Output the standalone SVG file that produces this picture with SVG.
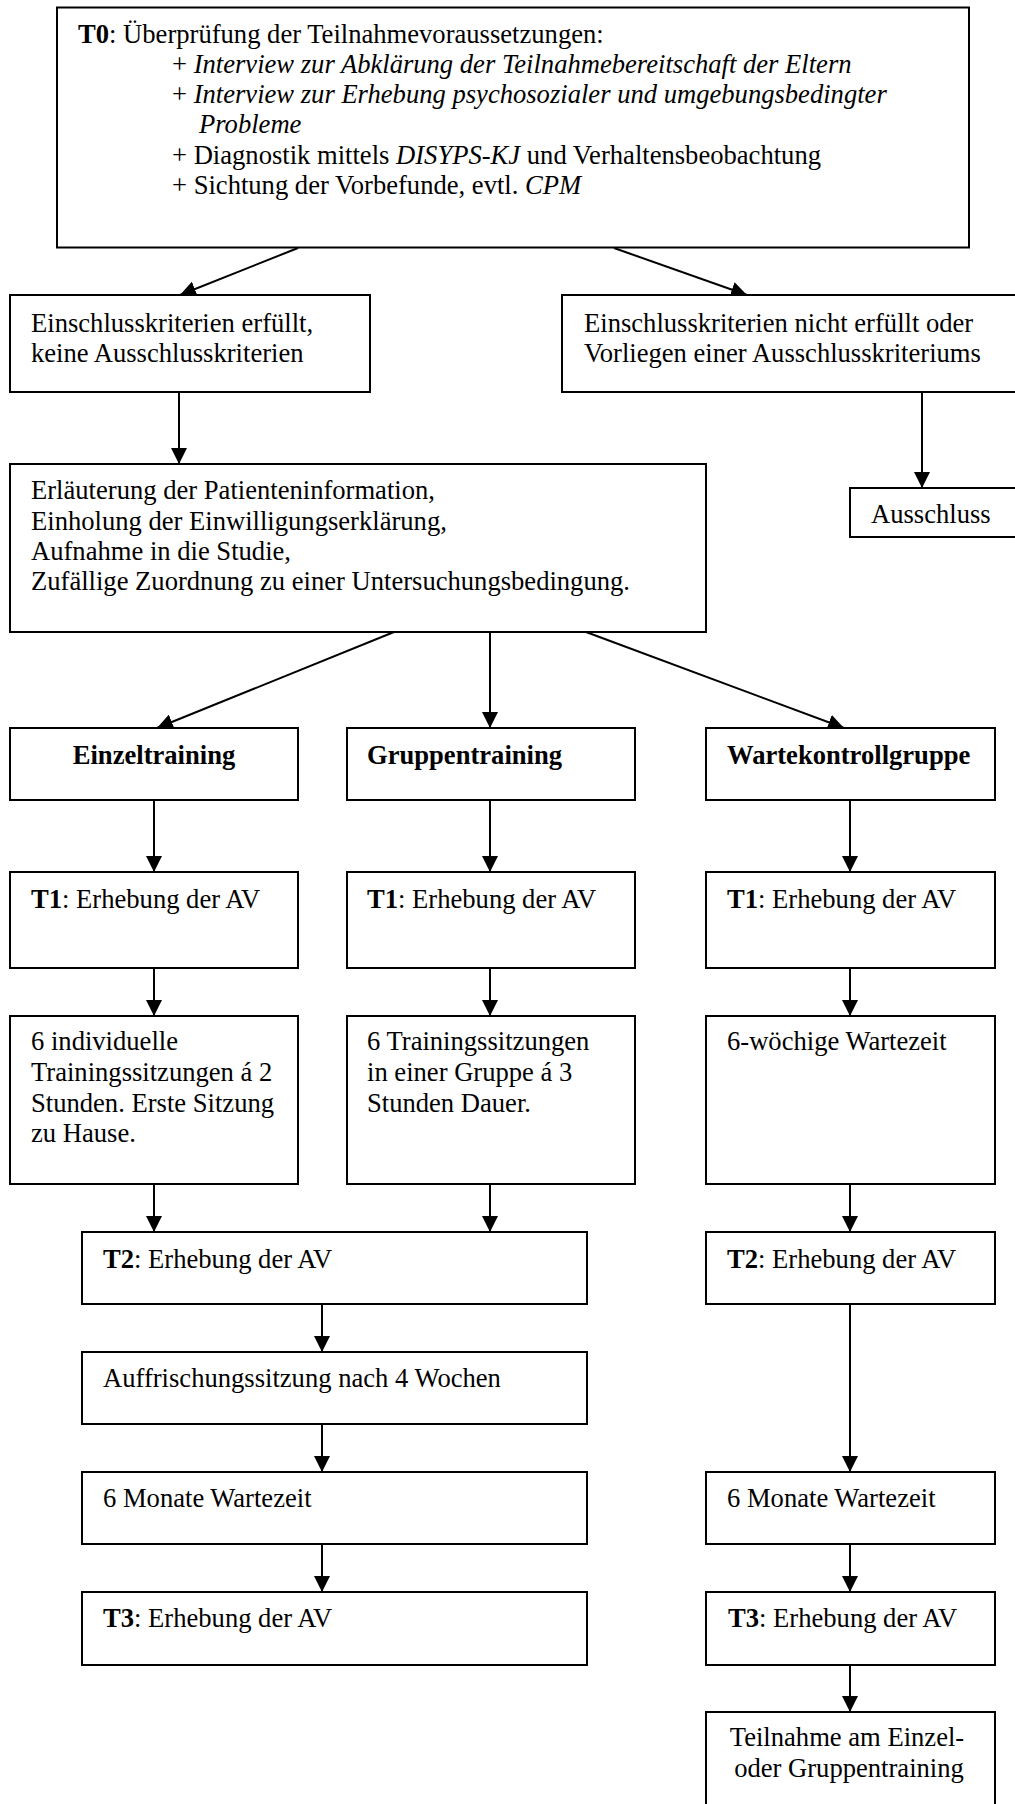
<svg xmlns="http://www.w3.org/2000/svg" width="1015" height="1804" viewBox="0 0 1015 1804">
<style>
  .box { fill: #fff; stroke: #000; stroke-width: 2; }
  .t { font-family: "Liberation Serif", "Times New Roman", serif; font-size: 26.6px; fill: #000; }
  .b { font-weight: bold; }
  .i { font-style: italic; }
  .c { text-anchor: middle; }
  .edge { stroke: #000; stroke-width: 2; fill: none; marker-end: url(#arr); }
</style>
<defs>
  <marker id="arr" markerUnits="userSpaceOnUse" markerWidth="16" markerHeight="16" viewBox="0 0 15 15" refX="15" refY="7.5" orient="auto">
    <path d="M0,0 L15,7.5 L0,15 z" fill="#000"/>
  </marker>
</defs>
<rect width="1015" height="1804" fill="#fff"/>

<g id="connectors">
  <line class="edge" x1="298" y1="248" x2="180" y2="295"/>
  <line class="edge" x1="614" y1="248" x2="747" y2="295"/>
  <line class="edge" x1="179" y1="392" x2="179" y2="464"/>
  <line class="edge" x1="922" y1="392" x2="922" y2="488"/>
  <line class="edge" x1="394" y1="632" x2="157" y2="728"/>
  <line class="edge" x1="490" y1="632" x2="490" y2="728"/>
  <line class="edge" x1="586" y1="632" x2="844" y2="728"/>
  <line class="edge" x1="154" y1="800" x2="154" y2="872"/>
  <line class="edge" x1="490" y1="800" x2="490" y2="872"/>
  <line class="edge" x1="850" y1="800" x2="850" y2="872"/>
  <line class="edge" x1="154" y1="968" x2="154" y2="1016"/>
  <line class="edge" x1="490" y1="968" x2="490" y2="1016"/>
  <line class="edge" x1="850" y1="968" x2="850" y2="1016"/>
  <line class="edge" x1="154" y1="1184" x2="154" y2="1232"/>
  <line class="edge" x1="490" y1="1184" x2="490" y2="1232"/>
  <line class="edge" x1="850" y1="1184" x2="850" y2="1232"/>
  <line class="edge" x1="322" y1="1304" x2="322" y2="1352"/>
  <line class="edge" x1="322" y1="1424" x2="322" y2="1472"/>
  <line class="edge" x1="322" y1="1544" x2="322" y2="1592"/>
  <line class="edge" x1="850" y1="1304" x2="850" y2="1472"/>
  <line class="edge" x1="850" y1="1544" x2="850" y2="1592"/>
  <line class="edge" x1="850" y1="1665" x2="850" y2="1712"/>
</g>

<g id="t0">
  <rect class="box" x="57" y="7.5" width="912" height="240"/>
  <text class="t" x="78" y="42.5"><tspan class="b">T0</tspan>: Überprüfung der Teilnahmevoraussetzungen:</text>
  <text class="t" x="172" y="72.8">+ <tspan class="i">Interview zur Abklärung der Teilnahmebereitschaft der Eltern</tspan></text>
  <text class="t" x="172" y="103.1">+ <tspan class="i">Interview zur Erhebung psychosozialer und umgebungsbedingter</tspan></text>
  <text class="t i" x="199" y="133.4">Probleme</text>
  <text class="t" x="172" y="163.7">+ Diagnostik mittels <tspan class="i">DISYPS-KJ</tspan> und Verhaltensbeobachtung</text>
  <text class="t" x="172" y="194">+ Sichtung der Vorbefunde, evtl. <tspan class="i">CPM</tspan></text>
</g>

<g id="einschluss">
  <rect class="box" x="10" y="295" width="360" height="97"/>
  <text class="t" x="31" y="331.5">Einschlusskriterien erfüllt,</text>
  <text class="t" x="31" y="361.7">keine Ausschlusskriterien</text>
</g>

<g id="nicht-erfuellt">
  <rect class="box" x="562" y="295" width="460" height="97"/>
  <text class="t" x="584" y="331.5">Einschlusskriterien nicht erfüllt oder</text>
  <text class="t" x="584" y="361.7">Vorliegen einer Ausschlusskriteriums</text>
</g>

<g id="ausschluss">
  <rect class="box" x="850" y="488" width="172" height="49"/>
  <text class="t" x="871" y="522.5">Ausschluss</text>
</g>

<g id="aufnahme">
  <rect class="box" x="10" y="464" width="696" height="168"/>
  <text class="t" x="31" y="499.3">Erläuterung der Patienteninformation,</text>
  <text class="t" x="31" y="529.6">Einholung der Einwilligungserklärung,</text>
  <text class="t" x="31" y="559.9">Aufnahme in die Studie,</text>
  <text class="t" x="31" y="590.2">Zufällige Zuordnung zu einer Untersuchungsbedingung.</text>
</g>

<g id="einzeltraining">
  <rect class="box" x="10" y="728" width="288" height="72"/>
  <text class="t b c" x="154" y="764.3">Einzeltraining</text>
</g>
<g id="gruppentraining">
  <rect class="box" x="347" y="728" width="288" height="72"/>
  <text class="t b" x="367" y="764.3">Gruppentraining</text>
</g>
<g id="wartekontrollgruppe">
  <rect class="box" x="706" y="728" width="289" height="72"/>
  <text class="t b" x="727" y="764.3">Wartekontrollgruppe</text>
</g>

<g id="t1-einzel">
  <rect class="box" x="10" y="872" width="288" height="96"/>
  <text class="t" x="31" y="907.5"><tspan class="b">T1</tspan>: Erhebung der AV</text>
</g>
<g id="t1-gruppe">
  <rect class="box" x="347" y="872" width="288" height="96"/>
  <text class="t" x="367" y="907.5"><tspan class="b">T1</tspan>: Erhebung der AV</text>
</g>
<g id="t1-warte">
  <rect class="box" x="706" y="872" width="289" height="96"/>
  <text class="t" x="727" y="907.5"><tspan class="b">T1</tspan>: Erhebung der AV</text>
</g>

<g id="sitzungen-einzel">
  <rect class="box" x="10" y="1016" width="288" height="168"/>
  <text class="t" x="31" y="1050.3">6 individuelle</text>
  <text class="t" x="31" y="1081">Trainingssitzungen á 2</text>
  <text class="t" x="31" y="1111.7">Stunden. Erste Sitzung</text>
  <text class="t" x="31" y="1142.4">zu Hause.</text>
</g>
<g id="sitzungen-gruppe">
  <rect class="box" x="347" y="1016" width="288" height="168"/>
  <text class="t" x="367" y="1050.3">6 Trainingssitzungen</text>
  <text class="t" x="367" y="1081">in einer Gruppe á 3</text>
  <text class="t" x="367" y="1111.7">Stunden Dauer.</text>
</g>
<g id="wartezeit-6w">
  <rect class="box" x="706" y="1016" width="289" height="168"/>
  <text class="t" x="727" y="1050.3">6-wöchige Wartezeit</text>
</g>

<g id="t2-training">
  <rect class="box" x="82" y="1232" width="505" height="72"/>
  <text class="t" x="103" y="1267.7"><tspan class="b">T2</tspan>: Erhebung der AV</text>
</g>
<g id="t2-warte">
  <rect class="box" x="706" y="1232" width="289" height="72"/>
  <text class="t" x="727" y="1267.7"><tspan class="b">T2</tspan>: Erhebung der AV</text>
</g>

<g id="auffrischung">
  <rect class="box" x="82" y="1352" width="505" height="72"/>
  <text class="t" x="103" y="1387.3">Auffrischungssitzung nach 4 Wochen</text>
</g>

<g id="monate-training">
  <rect class="box" x="82" y="1472" width="505" height="72"/>
  <text class="t" x="103" y="1507.3">6 Monate Wartezeit</text>
</g>
<g id="monate-warte">
  <rect class="box" x="706" y="1472" width="289" height="72"/>
  <text class="t" x="727" y="1507.3">6 Monate Wartezeit</text>
</g>

<g id="t3-training">
  <rect class="box" x="82" y="1592" width="505" height="73"/>
  <text class="t" x="103" y="1627.3"><tspan class="b">T3</tspan>: Erhebung der AV</text>
</g>
<g id="t3-warte">
  <rect class="box" x="706" y="1592" width="289" height="73"/>
  <text class="t" x="728" y="1627.3"><tspan class="b">T3</tspan>: Erhebung der AV</text>
</g>

<g id="teilnahme">
  <rect class="box" x="706" y="1712" width="289" height="110"/>
  <text class="t c" x="847" y="1746.3">Teilnahme am Einzel-</text>
  <text class="t c" x="849" y="1777.3">oder Gruppentraining</text>
</g>
</svg>
